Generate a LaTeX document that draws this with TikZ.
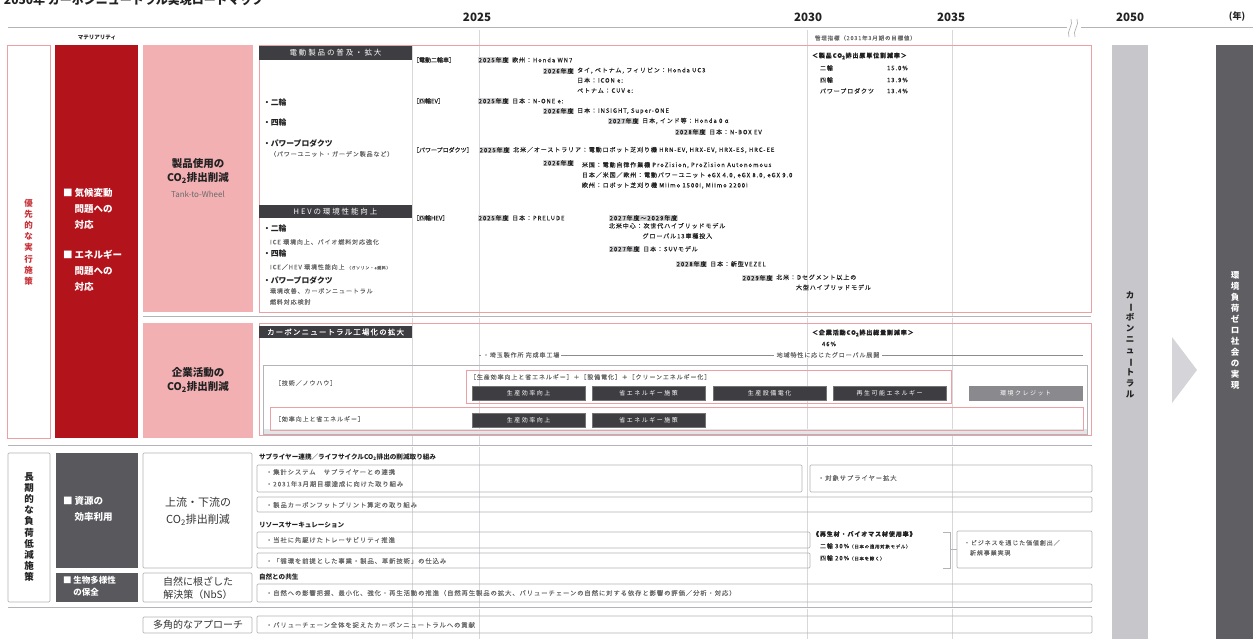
\documentclass[tikz,border=0pt]{standalone}
\usepackage{fontspec}
\setmainfont{Noto Sans CJK JP}
\newfontfamily\spf[LetterSpace=15,FakeBold=0.1]{Noto Sans CJK JP}
\newfontfamily\spw[LetterSpace=25]{Noto Sans CJK JP}
\newfontfamily\plf[FakeBold=0.1]{Noto Sans CJK JP}
\usetikzlibrary{positioning,calc}
\definecolor{dred}{HTML}{B3141C}
\definecolor{pinkf}{HTML}{F2B0B3}
\definecolor{redline}{HTML}{EBA0A4}
\definecolor{redtxt}{HTML}{C8323A}
\definecolor{hdrc}{HTML}{3E3E42}
\definecolor{dgray}{HTML}{58585D}
\definecolor{gline}{HTML}{B4B4B8}
\definecolor{gridc}{HTML}{D8D8DB}
\definecolor{txt}{HTML}{222222}
\definecolor{lgtxt}{HTML}{6A6A6A}
\definecolor{yrbg}{HTML}{D6D6D8}
\definecolor{cnbar}{HTML}{C7C7CB}
\definecolor{zbar}{HTML}{5E5E63}
\definecolor{chev}{HTML}{D5D5D9}
\definecolor{credit}{HTML}{8A8A8E}
\definecolor{strip}{HTML}{E2E6E8}
\newcommand{\yr}[1]{{\setlength{\fboxsep}{0.7pt}\colorbox{yrbg}{#1}}}
\newcommand{\vbar}{\rotatebox[origin=c]{-90}{ー}}
\tikzset{
  gridl/.style={draw=gridc, line width=0.6pt},
  tlline/.style={draw=gline, line width=0.9pt, double=white, double distance=0.7pt},
  sepl/.style={draw=gline, line width=0.8pt, double=white, double distance=0.6pt},
  redbox/.style={draw=redline, line width=0.9pt},
  graybox/.style={draw=gline, line width=0.7pt, rounded corners=1.2pt},
  hdr/.style={fill=hdrc, text=white, font=\spw\fontsize{7.5}{8}\selectfont, minimum width=153pt, minimum height=13pt},
  btn/.style={fill=hdrc, text=white, font=\spw\fontsize{6}{7}\selectfont, minimum width=113pt, minimum height=14pt, draw=black!55, line width=0.5pt},
  tl/.style={anchor=west, font=\spf\fontsize{6}{9.7}\selectfont},
  cat/.style={anchor=west, font=\plf\fontsize{6}{9.7}\selectfont},
  tlml/.style={anchor=north west, align=left, font=\spf\fontsize{6}{10.2}\selectfont},
  tgt/.style={anchor=west, font=\spf\fontsize{6}{9.7}\selectfont},
  item/.style={anchor=west, font=\bfseries\fontsize{7.8}{9}\selectfont},
  subt/.style={anchor=west, font=\spf\fontsize{6}{9}\selectfont, text=lgtxt},
  yearl/.style={font=\bfseries\fontsize{11.5}{12}\selectfont},
  vt/.style={align=center, font=\bfseries\fontsize{8.5}{11.2}\selectfont},
  lowt/.style={anchor=west, font=\spf\fontsize{6.3}{10.5}\selectfont, text=lgtxt},
  lowh/.style={anchor=west, font=\bfseries\fontsize{6.6}{8}\selectfont},
}
\begin{document}
\begin{tikzpicture}[x=1pt,y=-1pt,every node/.style={inner sep=0pt,outer sep=0pt,text=txt}]
\fill[white] (0,0) rectangle (1253,639);
\useasboundingbox (0,0) rectangle (1253,639);

% title (cut at top, as in the reference)
\node[anchor=west,font=\bfseries\fontsize{12}{12}\selectfont] (title) at (4,0) {2050年 カーボンニュートラル実現ロードマップ};

% grid lines
\foreach \gx in {479,807,952}{\draw[gridl] (\gx,30) -- (\gx,639);}
\draw[gridl] (412,45) -- (412,639);

% timeline axis
\draw[tlline] (8,28) -- (1067,28);
\draw[tlline] (1081,28) -- (1253,28);
\draw[draw=gline,line width=0.7pt] (1069,37) .. controls (1066,31) and (1074,25) .. (1071,19);
\draw[draw=gline,line width=0.7pt] (1075,37) .. controls (1072,31) and (1080,25) .. (1077,19);
\node[yearl] (y25) at (477,17) {2025};
\node[yearl] (y30) at (808,17) {2030};
\node[yearl] (y35) at (951,17) {2035};
\node[yearl] (y50) at (1130,17) {2050};
\node[yearl,font=\bfseries\fontsize{9}{10}\selectfont] (ynen) at (1237,17) {(年)};
\node[font=\bfseries\fontsize{5.5}{6}\selectfont] (matl) at (97,38) {マテリアリティ};
\node[anchor=west,font=\spf\fontsize{5.5}{6}\selectfont,text=lgtxt] (kanri) at (815,38) {管理指標（2031年3月期の目標値）};

% ===== upper block: left columns
\draw[draw=redline,line width=0.9pt] (7,45) rectangle (50,438);
\node[vt,text=redtxt] (prio) at (28.5,242) {優\\先\\的\\な\\実\\行\\施\\策};
\fill[dred] (55,45) rectangle (138,438);
\node[anchor=north west,align=left,text=white,font=\bfseries\fontsize{9.5}{16}\selectfont] (mat1) at (63,188) {■ 気候変動\\\phantom{■ }問題への\\\phantom{■ }対応};
\node[anchor=north west,align=left,text=white,font=\bfseries\fontsize{9.5}{16}\selectfont] (mat2) at (63,250) {■ エネルギー\\\phantom{■ }問題への\\\phantom{■ }対応};
\fill[pinkf] (143,45) rectangle (253,312);
\fill[pinkf] (143,323) rectangle (253,438);
\node[align=center,font=\bfseries\fontsize{10.5}{13.5}\selectfont] (p1) at (198,171) {製品使用の\\CO\textsubscript{2}排出削減};
\node[font=\fontsize{8}{9}\selectfont,text=lgtxt] (p1b) at (198,194) {Tank-to-Wheel};
\node[align=center,font=\bfseries\fontsize{10.5}{13.5}\selectfont] (p2) at (198,380) {企業活動の\\CO\textsubscript{2}排出削減};

% ===== product section
\draw[redbox] (259,45) rectangle (1091,312);
\node[hdr,minimum height=14pt] (h1) at (335.5,53) {電動製品の普及・拡大};
\node[item] (i1) at (263,103) {・二輪};
\node[item] (i2) at (263,123) {・四輪};
\node[item] (i3) at (263,143) {・パワープロダクツ};
\node[subt] (i3s) at (270,154) {（パワーユニット・ガーデン製品など）};
\node[hdr] (h2) at (335.5,211.5) {HEVの環境性能向上};
\node[item] (j1) at (263,229) {・二輪};
\node[subt] (j1s) at (270,242) {ICE 環境向上、バイオ燃料対応強化};
\node[item] (j2) at (263,254) {・四輪};
\node[subt] (j2s) at (270,267) {ICE／HEV 環境性能向上 {\fontsize{4}{5}\selectfont（ガソリン・e燃料）}};
\node[item] (j3) at (263,280) {・パワープロダクツ};
\node[subt] (j3s) at (270,291) {環境改善、カーボンニュートラル};
\node[subt] (j3t) at (270,302) {燃料対応検討};

% electric two-wheelers
\node[cat] (c1) at (413,60) {［電動二輪車］};
\node[tl] (t1y) at (478,60) {\yr{2025年度}};
\node[tl,right=3pt of t1y] (t1) {欧州：Honda WN7};
\node[tl] (t2y) at (543,71) {\yr{2026年度}};
\node[tlml,right=3pt of t2y.north east,anchor=north west] (t2) {タイ, ベトナム, フィリピン：Honda UC3\\日本：ICON e:\\ベトナム：CUV e:};
% EV
\node[cat] (c2) at (413,101) {［四輪EV］};
\node[tl] (t3y) at (478,101) {\yr{2025年度}};
\node[tl,right=3pt of t3y] (t3) {日本：N-ONE e:};
\node[tl] (t4y) at (543,111) {\yr{2026年度}};
\node[tl,right=3pt of t4y] (t4) {日本：INSIGHT, Super-ONE};
\node[tl] (t5y) at (608,121) {\yr{2027年度}};
\node[tl,right=3pt of t5y] (t5) {日本, インド等：Honda 0 α};
\node[tl] (t6y) at (675,132) {\yr{2028年度}};
\node[tl,right=3pt of t6y] (t6) {日本：N-BOX EV};
% power products
\node[cat] (c3) at (413,150) {［パワープロダクツ］};
\node[tl] (t7y) at (479,150) {\yr{2025年度}};
\node[tl,right=3pt of t7y] (t7) {北米／オーストラリア：電動ロボット芝刈り機 HRN-EV, HRX-EV, HRX-ES, HRC-EE};
\node[tl] (t8y) at (543,163) {\yr{2026年度}};
\node[tlml] (t8) at (582,162) {米国：電動自律作業機 ProZision, ProZision Autonomous\\日本／米国／欧州：電動パワーユニット eGX 4.0, eGX 8.0, eGX 9.0\\欧州：ロボット芝刈り機 Miimo 1500i, Miimo 2200i};
% HEV
\node[cat] (c4) at (413,218) {［四輪HEV］};
\node[tl] (t9y) at (478,218) {\yr{2025年度}};
\node[tl,right=3pt of t9y] (t9) {日本：PRELUDE};
\node[tl] (t10y) at (609,218) {\yr{2027年度～2029年度}};
\node[tlml] (t10) at (609,223) {北米中心：次世代ハイブリッドモデル\\\phantom{北米中心：}グローバル13車種投入};
\node[tl] (t11y) at (609,249) {\yr{2027年度}};
\node[tl,right=3pt of t11y] (t11) {日本：SUVモデル};
\node[tl] (t12y) at (676,264) {\yr{2028年度}};
\node[tl,right=3pt of t12y] (t12) {日本：新型VEZEL};
\node[tl] (t13y) at (742,278) {\yr{2029年度}};
\node[tlml,right=3pt of t13y.north east,anchor=north west] (t13) {北米：Dセグメント以上の\\\phantom{北米：}大型ハイブリッドモデル};
% targets
\node[tgt,font=\spf\bfseries\fontsize{6}{8}\selectfont] (k1) at (812,56) {＜製品CO\textsubscript{2}排出原単位削減率＞};
\node[tgt] (k1a) at (820,68) {二輪};
\node[tgt] (k1av) at (887,68) {15.0\%};
\node[tgt] (k1b) at (820,80) {四輪};
\node[tgt] (k1bv) at (887,80) {13.9\%};
\node[tgt] (k1c) at (820,91) {パワープロダクツ};
\node[tgt] (k1cv) at (887,91) {13.4\%};

% separator
\draw[sepl] (143,317) -- (1091,317);

% ===== corporate activity section
\draw[redbox] (259,323) rectangle (1091,435);
\node[hdr,minimum height=12pt,font=\spf\fontsize{7.5}{8}\selectfont] (h3) at (335.5,332) {カーボンニュートラル工場化の拡大};
\node[tgt,font=\spf\bfseries\fontsize{6}{8}\selectfont] (k2) at (812,333) {＜企業活動CO\textsubscript{2}排出総量削減率＞};
\node[tgt] (k2v) at (822,344) {46\%};
\draw[draw=black!45,line width=0.5pt] (479,355) -- (1083,355);
\node[anchor=west,fill=white,inner xsep=2pt,font=\spf\fontsize{6}{7}\selectfont,text=lgtxt] (s2a) at (481,355) {・埼玉製作所 完成車工場};
\node[fill=white,inner xsep=3pt,font=\spf\fontsize{6}{7}\selectfont,text=lgtxt] (s2b) at (828,355) {地域特性に応じたグローバル展開};
\fill[strip] (263,429) rectangle (1087,434);
\draw[draw=gline,line width=0.7pt] (263,365) rectangle (1087,434);
\node[tl,text=lgtxt] (tech) at (275,383) {［技術／ノウハウ］};
\draw[redbox] (466,370) rectangle (951,403);
\node[tl,text=lgtxt] (mix) at (470,377) {［生産効率向上と省エネルギー］＋［設備電化］＋［クリーンエネルギー化］};
\node[btn] (b1) at (528.5,393) {生産効率向上};
\node[btn] (b2) at (648.5,393) {省エネルギー施策};
\node[btn] (b3) at (769.5,393) {生産設備電化};
\node[btn] (b4) at (889.5,393) {再生可能エネルギー};
\node[btn,fill=credit,draw=credit] (b5) at (1025.5,393) {環境クレジット};
\draw[redbox] (270,407) rectangle (1083,430);
\node[tl,text=lgtxt] (eff) at (275,419) {［効率向上と省エネルギー］};
\node[btn] (b6) at (528.5,420) {生産効率向上};
\node[btn] (b7) at (648.5,420) {省エネルギー施策};

% right bars
\fill[cnbar] (1112,45) rectangle (1148,639);
\node[vt,font=\bfseries\fontsize{8.5}{11}\selectfont] (cn) at (1130,345) {カ\\\vbar\\ボ\\ン\\ニ\\ュ\\\vbar\\ト\\ラ\\ル};
\fill[chev] (1172,337) -- (1197,370) -- (1172,403) -- cycle;
\fill[zbar] (1216,45) rectangle (1253,639);
\node[vt,text=white,font=\bfseries\fontsize{8.5}{11}\selectfont] (zero) at (1235,330) {環\\境\\負\\荷\\ゼ\\ロ\\社\\会\\の\\実\\現};

% ===== lower block
\draw[sepl] (8,446) -- (1092,446);
\draw[graybox] (8,453) rectangle (50,602);
\node[vt,font=\bfseries\fontsize{9.5}{11.1}\selectfont] (longt) at (29,527) {長\\期\\的\\な\\負\\荷\\低\\減\\施\\策};
\fill[dgray] (56,453) rectangle (138,568);
\fill[dgray] (56,573) rectangle (138,602);
\node[anchor=north west,align=left,text=white,font=\bfseries\fontsize{9.5}{16}\selectfont] (res) at (63,496) {■ 資源の\\\phantom{■ }効率利用};
\node[anchor=north west,align=left,text=white,font=\bfseries\fontsize{8.5}{12}\selectfont] (bio) at (63,576) {■ 生物多様性\\\phantom{■ }の保全};
\draw[graybox] (143,453) rectangle (252,568);
\draw[graybox] (143,573) rectangle (252,602);
\draw[graybox] (143,617) rectangle (252,633);
\node[align=center,font=\fontsize{11}{17}\selectfont,text=black!80] (up) at (198,511) {上流・下流の\\CO\textsubscript{2}排出削減};
\node[align=center,font=\fontsize{10}{13}\selectfont,text=black!80] (nbs) at (198,588) {自然に根ざした\\解決策（NbS）};
\node[font=\fontsize{10}{11}\selectfont,text=black!80] (multi) at (198,625) {多角的なアプローチ};

\node[lowh] (lh1) at (259,457) {サプライヤー連携／ライフサイクルCO\textsubscript{2}排出の削減取り組み};
\draw[graybox] (257,465) rectangle (802,492);
\node[lowt] (la1) at (266,472) {・集計システム　サプライヤーとの連携};
\node[lowt] (la2) at (266,484) {・2031年3月期目標達成に向けた取り組み};
\draw[graybox] (810,465) rectangle (1092,492);
\node[lowt] (lb1) at (818,478) {・対象サプライヤー拡大};
\draw[graybox] (257,497) rectangle (1092,512);
\node[lowt] (lc1) at (266,505) {・製品カーボンフットプリント算定の取り組み};
\node[lowh] (lh2) at (259,525) {リソースサーキュレーション};
\draw[graybox] (257,532) rectangle (810,548);
\node[lowt] (ld1) at (266,540) {・当社に先駆けたトレーサビリティ推進};
\draw[graybox] (257,553) rectangle (810,568);
\node[lowt] (le1) at (266,561) {・「循環を前提とした事業・製品、革新技術」の仕込み};
\node[tgt,font=\spf\bfseries\fontsize{6}{7}\selectfont] (k3) at (813,534) {《再生材・バイオマス材使用率》};
\node[tgt,font=\spf\fontsize{6}{7}\selectfont] (k3a) at (820,546) {二輪 30\%{\fontsize{4.5}{5}\selectfont（日本の適用対象モデル）}};
\node[tgt,font=\spf\fontsize{6}{7}\selectfont] (k3b) at (820,558) {四輪 20\%{\fontsize{4.5}{5}\selectfont（日本を除く）}};
\draw[draw=gline,line width=0.7pt] (943,532) -- (950,532) -- (950,568) -- (943,568);
\draw[draw=gline,line width=0.7pt] (950,549) -- (957,549);
\draw[graybox] (957,531) rectangle (1092,568);
\node[anchor=north west,align=left,font=\spf\fontsize{6}{10}\selectfont,text=lgtxt] (lf1) at (964,540) {・ビジネスを通じた価値創出／\\\phantom{・}新規事業実現};
\node[lowh] (lh3) at (259,577) {自然との共生};
\draw[graybox] (257,584) rectangle (1092,602);
\node[lowt] (lg1) at (266,593) {・自然への影響把握、最小化、強化・再生活動の推進（自然再生製品の拡大、バリューチェーンの自然に対する依存と影響の評価／分析・対応）};
\draw[sepl] (8,608) -- (1092,608);
\draw[graybox] (257,616) rectangle (1092,633);
\node[lowt] (lh1b) at (266,625) {・バリューチェーン全体を捉えたカーボンニュートラルへの貢献};
\end{tikzpicture}
\end{document}
